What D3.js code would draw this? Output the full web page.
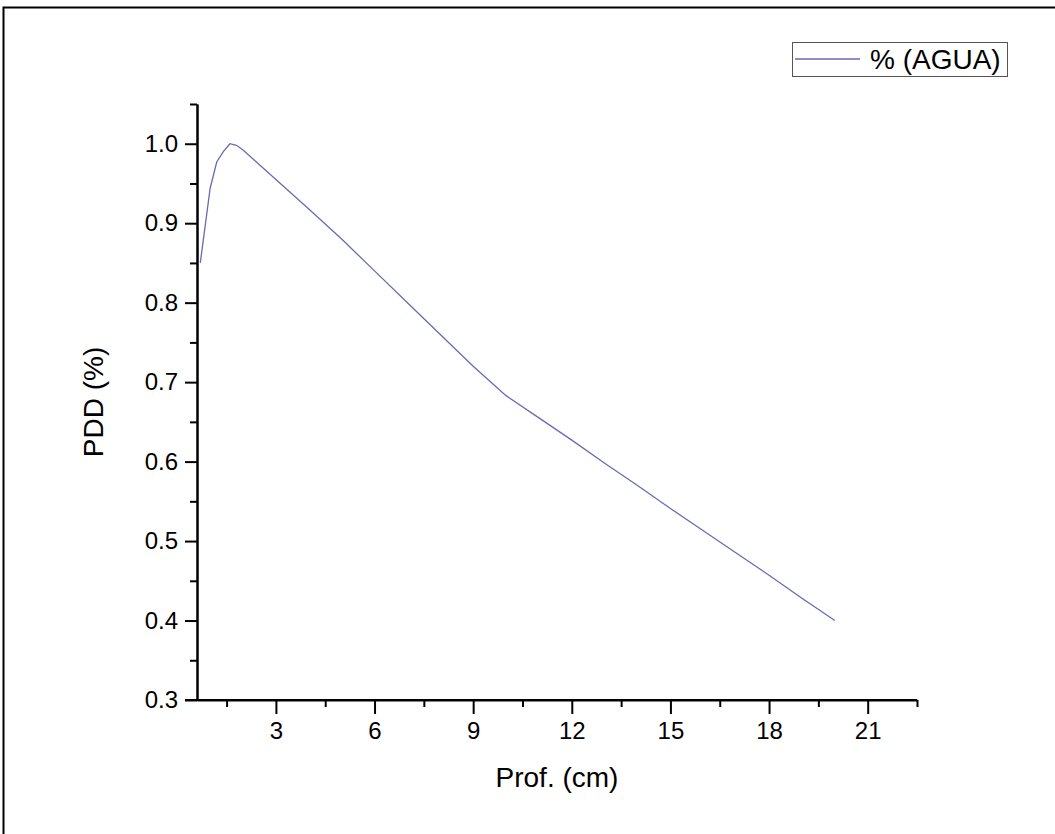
<!DOCTYPE html>
<html>
<head>
<meta charset="utf-8">
<script src="https://cdn.jsdelivr.net/npm/d3@7"></script>
<style>
  html, body { margin: 0; padding: 0; background: #fff; }
  svg { display: block; }
  text { font-family: Arial, "Liberation Sans", sans-serif; fill: #000; }
</style>
</head>
<body>
<svg id="chart" width="1055" height="834"></svg>
<script>
// ---- data ----
const depth = [0.7, 1.0, 1.2, 1.4, 1.6, 1.8, 2.0, 3, 4, 5, 6, 7, 8, 9, 10, 11, 12, 13, 14, 15, 16, 17, 18, 19, 20];
const pddAgua = [0.85, 0.944, 0.977, 0.99, 1.0, 0.998, 0.992, 0.955, 0.918, 0.88, 0.84, 0.80, 0.76, 0.72, 0.683, 0.655, 0.627, 0.598, 0.570, 0.541, 0.513, 0.485, 0.457, 0.428, 0.400];
const xMajorTicks = [3, 6, 9, 12, 15, 18, 21];
const xMinorTicks = [1.5, 4.5, 7.5, 10.5, 13.5, 16.5, 19.5, 22.5];
const yMajorTicks = [0.3, 0.4, 0.5, 0.6, 0.7, 0.8, 0.9, 1.0];
const yMinorTicks = [0.35, 0.45, 0.55, 0.65, 0.75, 0.85, 0.95, 1.05];
const seriesName = "% (AGUA)";
const xTitle = "Prof. (cm)";
const yTitle = "PDD (%)";

(function () {
const svg = d3.select("#chart");

// outer frame
svg.append("rect").attr("x", 3.5).attr("y", 7.5).attr("width", 1060).attr("height", 840)
  .attr("fill", "none").attr("stroke", "#000").attr("stroke-width", 2);

const pL = 197, pR = 917, pT = 104, pB = 700;
const x = d3.scaleLinear().domain([0.6, 22.5]).range([pL, pR]);
const y = d3.scaleLinear().domain([0.3, 1.05]).range([pB, pT]);

// x axis
const gx = svg.append("g").attr("transform", `translate(0,${pB})`);
gx.call(d3.axisBottom(x).tickValues(xMajorTicks).tickSize(14).tickSizeOuter(0).tickPadding(8).tickFormat(d3.format("d")));
gx.append("g").call(d3.axisBottom(x).tickValues(xMinorTicks).tickSize(7).tickSizeOuter(0).tickFormat(""));
// y axis
const gy = svg.append("g").attr("transform", `translate(${pL},0)`);
gy.call(d3.axisLeft(y).tickValues(yMajorTicks).tickSize(12).tickSizeOuter(0).tickPadding(7).tickFormat(d3.format(".1f")));
gy.append("g").call(d3.axisLeft(y).tickValues(yMinorTicks).tickSize(7).tickSizeOuter(0).tickFormat(""));

svg.selectAll(".domain").attr("stroke", "#000").attr("stroke-width", 2);
svg.selectAll(".tick line").attr("stroke", "#000").attr("stroke-width", 2);
svg.selectAll(".tick text").attr("font-size", 24).attr("font-family", "Arial, 'Liberation Sans', sans-serif").attr("fill", "#000");
gx.select(".domain").attr("d", `M${pL - 12},0H${pR}`);

// curve
const line = d3.line().x((d, i) => x(depth[i])).y(d => y(d));
svg.append("path").datum(pddAgua).attr("d", line)
  .attr("fill", "none").attr("stroke", "#6a6ab4").attr("stroke-width", 1.3);

// titles
svg.append("text").attr("x", (pL + pR) / 2).attr("y", 787).attr("text-anchor", "middle")
  .attr("font-size", 28).text(xTitle);
svg.append("text").attr("transform", `translate(103,${(pT + pB) / 2}) rotate(-90)`)
  .attr("text-anchor", "middle").attr("font-size", 28).text(yTitle);

// legend
const lg = svg.append("g");
lg.append("rect").attr("x", 792.5).attr("y", 42.5).attr("width", 215).attr("height", 34)
  .attr("fill", "#fff").attr("stroke", "#555").attr("stroke-width", 1);
lg.append("line").attr("x1", 795).attr("x2", 860).attr("y1", 59).attr("y2", 59)
  .attr("stroke", "#6a6ab4").attr("stroke-width", 1.3);
lg.append("text").attr("x", 870).attr("y", 69).attr("font-size", 28).text(seriesName);
})();
</script>
</body>
</html>
